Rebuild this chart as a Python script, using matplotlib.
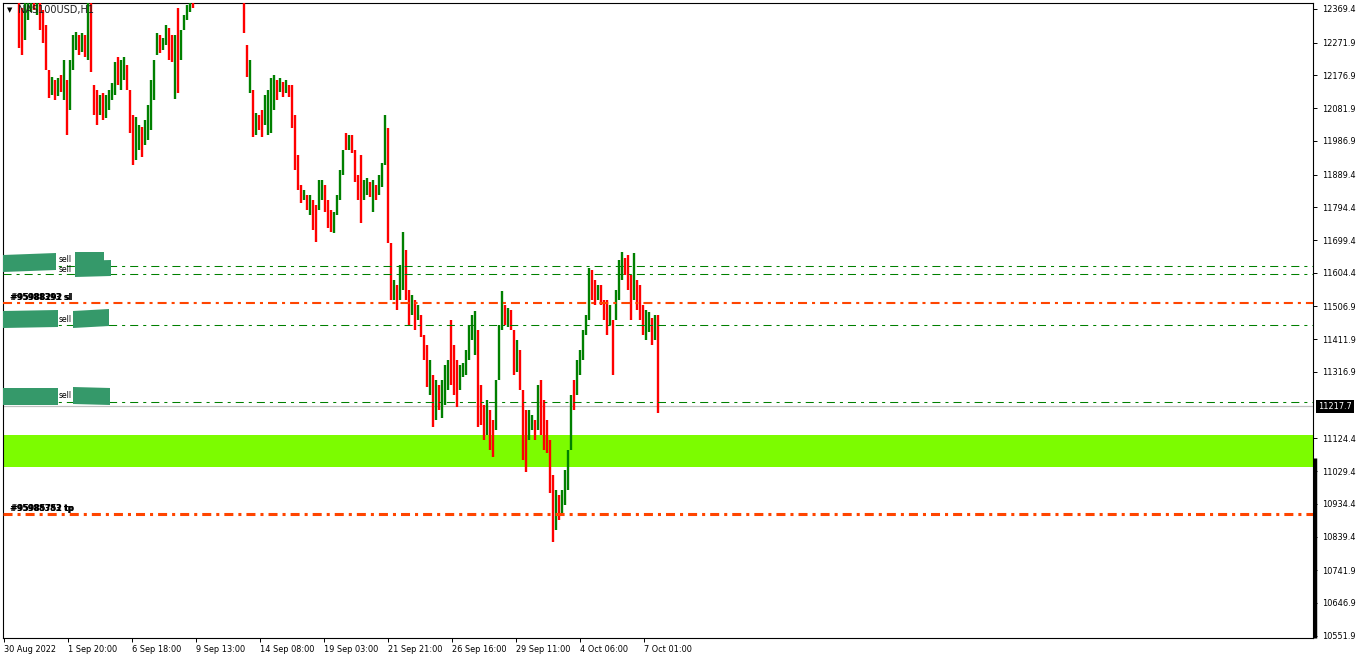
import numpy as np
import matplotlib.pyplot as plt
from matplotlib.patches import Polygon
from matplotlib.transforms import Affine2D, blended_transform_factory

plt.rcParams['font.family'] = ['DejaVu Sans']
plt.rcParams['lines.scale_dashes'] = False

# NAS100USD H1 - every third hourly bar, high / low
highs = [
    12482, 12468, 12482, 12454, 12439, 12396, 12372, 12392, 12392, 12410,
    12410, 12396, 12390, 12366, 12323, 12193, 12172, 12164, 12169, 12178,
    12222, 12164, 12222, 12294, 12303, 12294, 12300, 12294, 12400, 12400,
    12149, 12135, 12120, 12126, 12120, 12135, 12155, 12216, 12230, 12222,
    12230, 12207, 12135, 12062, 12056, 12033, 12027, 12048, 12091, 12164,
    12222, 12300, 12294, 12285, 12323, 12314, 12294, 12294, 12372, 12309,
    12352, 12381, 12396, 12410, 12440, 12470, 12500, 12520, 12510, 12545,
    12580, 12600, 12590, 12630, 12660, 12680, 12700, 12720, 12690, 12580,
    12440, 12265, 12222, 12135, 12068, 12062, 12077, 12120, 12135, 12169,
    12178, 12164, 12169, 12158, 12164, 12149, 12149, 12062, 11946, 11859,
    11845, 11830, 11830, 11816, 11801, 11874, 11874, 11859, 11816, 11787,
    11781, 11830, 11903, 11961, 12010, 12004, 12004, 11961, 11888, 11946,
    11874, 11879, 11868, 11874, 11859, 11888, 11923, 12062, 12024, 11691,
    11584, 11569, 11627, 11723, 11671, 11555, 11540, 11526, 11511, 11482,
    11424, 11395, 11352, 11308, 11294, 11279, 11294, 11337, 11352, 11468,
    11395, 11352, 11337, 11343, 11381, 11453, 11482, 11494, 11439, 11279,
    11221, 11236, 11207, 11178, 11294, 11453, 11552, 11511, 11502, 11497,
    11439, 11410, 11381, 11265, 11207, 11207, 11192, 11178, 11279, 11294,
    11236, 11178, 11120, 11018, 10975, 10960, 10975, 11033, 11091, 11250,
    11294, 11352, 11381, 11439, 11482, 11618, 11613, 11584, 11569, 11569,
    11526, 11526, 11511, 11468, 11555, 11642, 11665, 11647, 11656, 11598,
    11662, 11584, 11569, 11511, 11497, 11491, 11473, 11482, 11482,
]
lows = [
    12400, 12398, 12401, 12392, 12393, 12256, 12236, 12280, 12338, 12361,
    12366, 12352, 12309, 12271, 12193, 12111, 12120, 12106, 12117, 12129,
    12106, 12004, 12077, 12193, 12251, 12236, 12245, 12230, 12222, 12187,
    12062, 12033, 12062, 12048, 12053, 12077, 12106, 12120, 12149, 12135,
    12164, 12135, 12010, 11917, 11932, 11961, 11940, 11975, 11990, 12019,
    12106, 12236, 12242, 12251, 12265, 12222, 12216, 12108, 12126, 12222,
    12309, 12338, 12361, 12372, 12395, 12420, 12450, 12470, 12460, 12490,
    12520, 12550, 12540, 12570, 12600, 12620, 12640, 12650, 12560, 12420,
    12300, 12172, 12126, 11998, 12004, 12019, 11998, 12033, 12004, 12010,
    12077, 12106, 12129, 12114, 12126, 12114, 12024, 11903, 11845, 11807,
    11816, 11787, 11772, 11729, 11694, 11787, 11816, 11781, 11734, 11723,
    11720, 11772, 11816, 11888, 11961, 11961, 11952, 11868, 11816, 11749,
    11816, 11830, 11824, 11781, 11816, 11830, 11853, 11917, 11691, 11526,
    11526, 11497, 11526, 11555, 11526, 11453, 11482, 11439, 11468, 11418,
    11352, 11273, 11250, 11157, 11178, 11207, 11183, 11221, 11265, 11279,
    11250, 11215, 11265, 11302, 11308, 11352, 11410, 11366, 11157, 11163,
    11120, 11134, 11091, 11070, 11149, 11294, 11439, 11453, 11447, 11439,
    11308, 11317, 11265, 11062, 11027, 11120, 11149, 11120, 11149, 11134,
    11091, 11082, 10966, 10824, 10859, 10888, 10902, 10931, 10975, 11091,
    11207, 11250, 11308, 11352, 11424, 11468, 11526, 11511, 11526, 11511,
    11468, 11424, 11453, 11308, 11468, 11526, 11584, 11598, 11555, 11468,
    11526, 11497, 11468, 11424, 11410, 11433, 11395, 11410, 11198,
]
# u = bullish bar, d = bearish bar
moves = ("dududdduuu" "duddddudud" "uduuududud" "dduduuuudu" "uddduuduuu"
         "uuduuddudu" "uuuduuuduu" "uduuududdd" "ddududduuu" "udududdddd"
         "ududduuddd" "uuuududddd" "uududuuudd" "uduuddudud" "ddududuuud"
         "dduuuuuudd" "dudduuudud" "duddduudud" "dddduduuuu" "duuuuuddud"
         "dduduuuddd" "uddduudud")
bar_step = 3

date_labels = ['30 Aug 2022', '1 Sep 20:00', '6 Sep 18:00', '9 Sep 13:00',
               '14 Sep 08:00', '19 Sep 03:00', '21 Sep 21:00', '26 Sep 16:00',
               '29 Sep 11:00', '4 Oct 06:00', '7 Oct 01:00']
date_step = 64

price_ticks = [12369.4, 12271.9, 12176.9, 12081.9, 11986.9, 11889.4, 11794.4,
               11699.4, 11604.4, 11506.9, 11411.9, 11316.9, 11124.4, 11029.4,
               10934.4, 10839.4, 10741.9, 10646.9, 10551.9]
last_price = 11217.7

sell_levels = [11625, 11600, 11453, 11229]
sl_level = 11518
tp_level = 10904
zone_low, zone_high = 11041, 11134

W, H = 1362, 660
fig = plt.figure(figsize=(W / 100, H / 100), dpi=100)
ax = fig.add_axes([3 / W, 22 / H, 1310 / W, 635 / H])
px = Affine2D().scale(1 / W, -1 / H).translate(0, 1) + fig.transFigure
blend = blended_transform_factory(ax.transAxes, ax.transData)

ax.set_xlim(-0.6, 1309.4)
ax.set_ylim(10545.3, 12386.8)

# bars
x = np.arange(len(highs)) * bar_step
cols = ['#008000' if m == 'u' else '#ff0000' for m in moves]
ax.vlines(x, lows, highs, colors=cols, lw=1.7, zorder=3)

# zone and levels
ax.axhspan(zone_low, zone_high, color='#7cfc00', lw=0, zorder=1)
ax.axhline(last_price, color='#c0c0c0', lw=0.9, zorder=2)
dashdot = (0, (5.8, 3.6, 2.2, 3.6))
for lvl in sell_levels:
    ax.axhline(lvl, color='#008000', lw=0.75, ls=dashdot, zorder=4)
ax.axhline(sl_level, color='#ff4500', lw=1.5, ls=(0, (6.5, 3.6, 2.2, 3.6)), zorder=4)
ax.axhline(tp_level, color='#ff4500', lw=2.2, ls=(0, (6.5, 3.6, 2.2, 3.6)), zorder=4)

# trade label boxes (pixel positions)
boxes = [(3, 56, 255, 253, 17), (75, 104, 252, 252, 18), (75, 111, 261, 260, 16),
         (3, 58, 311, 310, 17), (73, 109, 311, 309, 17),
         (3, 58, 388, 388, 17), (73, 110, 387, 388, 17)]
for x0, x1, yl, yr, h in boxes:
    ax.add_patch(Polygon([(x0, yl), (x1, yr), (x1, yr + h), (x0, yl + h)],
                         closed=True, transform=px, fc='#35996a', ec='none',
                         zorder=5, clip_on=False))
for yy in (259.5, 269, 319, 396):
    ax.text(59, yy, 'sell', transform=px, fontsize=5.5, va='center', ha='left',
            color='black', zorder=6)

for dx, t in ((0, '#95988393 sl'), (0.8, '#95988292 sl')):
    ax.text(10 + dx, 297.5, t, transform=px, fontsize=5.8, fontweight='bold',
            va='center', ha='left', color='black', zorder=6)
for dx, t in ((0, '#95988383 tp'), (0.8, '#95985752 tp')):
    ax.text(10 + dx, 508.5, t, transform=px, fontsize=5.8, fontweight='bold',
            va='center', ha='left', color='black', zorder=6)

ax.text(6.5, 10.5, '\u25bc', transform=px, fontsize=5, va='center', ha='left', zorder=7)
ax.text(18, 10.5, 'NAS100USD,H1', transform=px, fontsize=7, va='center', ha='left',
        color='#202020', zorder=7)

# axes
for s in ax.spines.values():
    s.set_color('black')
    s.set_linewidth(0.8)
ax.yaxis.tick_right()
ax.set_yticks(price_ticks)
ax.set_yticklabels([f'{v:.1f}' for v in price_ticks])
ax.tick_params(axis='y', direction='out', length=3, width=0.7, labelsize=5.9, pad=3.5)
ax.set_xticks(np.arange(len(date_labels)) * date_step)
ax.set_xticklabels(date_labels, ha='left')
ax.tick_params(axis='x', direction='out', length=3, width=0.7, labelsize=5.9, pad=2)

ax.text(1 + 5 / 1310, last_price, f'{last_price:.1f}', transform=blend, color='white',
        fontsize=5.9, va='center', ha='left', zorder=10, clip_on=False,
        bbox=dict(boxstyle='square,pad=0.25', fc='black', ec='none'))
ax.plot([1 + 2 / 1310] * 2, [11067, 10545.3], transform=blend, color='black',
        lw=2.5, solid_capstyle='butt', clip_on=False, zorder=10)

fig.savefig('out.png', dpi=100)
